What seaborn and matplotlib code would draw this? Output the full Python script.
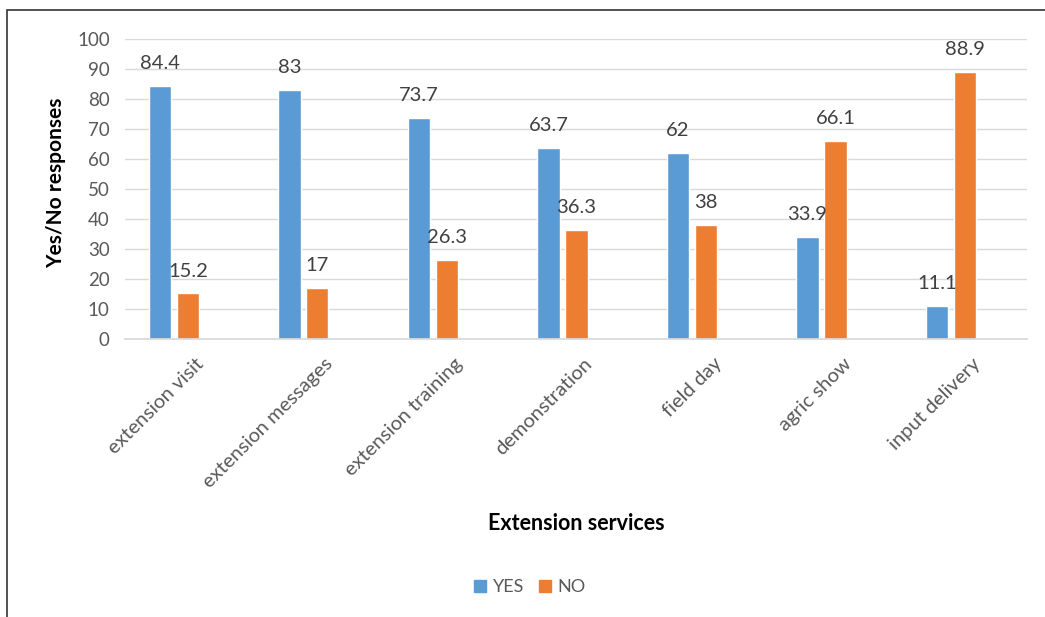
import matplotlib
matplotlib.use("Agg")
import matplotlib.pyplot as plt
import matplotlib.transforms as mtransforms
from matplotlib.patches import Rectangle, Patch
import seaborn as sns
import pandas as pd

categories = ["extension visit", "extension messages", "extension training",
              "demonstration", "field day", "agric show", "input delivery"]
yes_values = [84.4, 83, 73.7, 63.7, 62, 33.9, 11.1]
no_values = [15.2, 17, 26.3, 36.3, 38, 66.1, 88.9]
series_names = ["YES", "NO"]
yticks = list(range(0, 101, 10))

df = pd.DataFrame({
    "service": categories * 2,
    "value": yes_values + no_values,
    "response": [series_names[0]] * len(categories) + [series_names[1]] * len(categories),
})

sns.set_theme(style="white")
plt.rcParams['font.family'] = ['Lato', 'DejaVu Sans']

fig = plt.figure(figsize=(10.45, 6.17), dpi=100)
ax = fig.add_axes([125/1045, 1-339/617, (1027-125)/1045, 300/617])

palette = {"YES": "#5B9BD5", "NO": "#ED7D31"}
sns.barplot(data=df, x="service", y="value", hue="response", palette=palette,
            width=0.432, gap=0.21, ax=ax, legend=False, saturation=1)

ax.set_ylim(0, 100)
ax.set_yticks(yticks)
ax.set_xlim(-0.378, 6.587)
ax.yaxis.grid(True, color="#D9D9D9", lw=1)
ax.set_axisbelow(True)
for s in ["top", "right", "left"]:
    ax.spines[s].set_visible(False)
ax.spines["bottom"].set_color("#D9D9D9")
ax.tick_params(axis="y", labelsize=13.5, colors="#595959", length=0, pad=11)
ax.tick_params(axis="x", length=0)

offset = mtransforms.ScaledTranslation(27/100, -17/100, fig.dpi_scale_trans)
ax.set_xticks(range(len(categories)))
ax.set_xticklabels(categories, rotation=45, ha="right", va="center",
                   rotation_mode="anchor", fontsize=14.5, color="#595959")
for lbl in ax.get_xticklabels():
    lbl.set_transform(lbl.get_transform() + offset)

for cont in ax.containers:
    ax.bar_label(cont, labels=[f"{v:g}" for v in cont.datavalues],
                 padding=10, fontsize=14.5, color="#404040")

ax.set_xlabel("Extension services", fontsize=15.5, fontweight="bold", color="#000000")
ax.xaxis.set_label_coords(0.5, -(513-339)/300, transform=ax.transAxes)
ax.set_ylabel("Yes/No responses", fontsize=15, fontweight="bold", color="#000000")
ax.yaxis.set_label_coords((66-125)/902, 0.52, transform=ax.transAxes)

handles = [Patch(color=palette[n]) for n in series_names]
fig.legend(handles, series_names, loc="center", bbox_to_anchor=(530/1045, 1-587/617),
           ncol=2, frameon=False, fontsize=13, handlelength=0.65, handleheight=0.65,
           handletextpad=0.4, columnspacing=0.8, labelcolor="#595959")

fig.patches.append(Rectangle((7/1045, -0.1), 1.2, 1-10/617+0.1, transform=fig.transFigure,
                             fill=False, edgecolor="#333333", lw=1.2))

fig.savefig("out.png", dpi=100)
